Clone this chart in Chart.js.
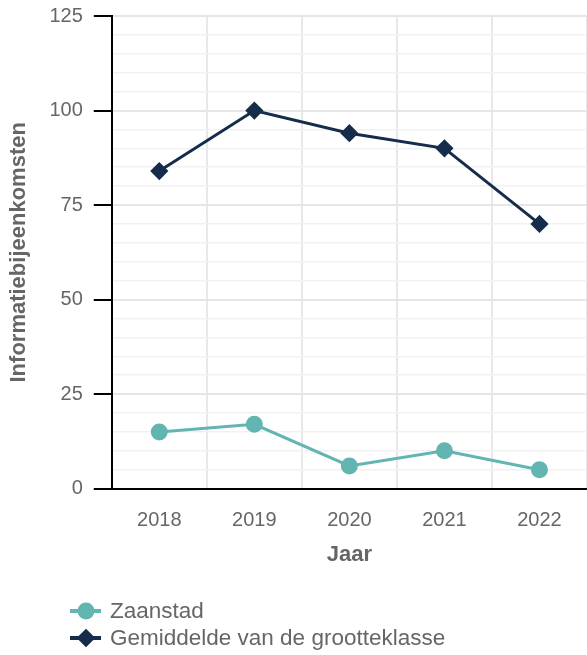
<!DOCTYPE html>
<html>
<head>
<meta charset="utf-8">
<script src="https://cdn.jsdelivr.net/npm/chart.js@4"></script>
<style>
    html, body { margin: 0; padding: 0; background: #fff; }
    #wrap { width: 587px; height: 655px; }
</style>
</head>
<body>
<div id="wrap"><canvas id="chart"></canvas></div>
<script>
const years = ['2018', '2019', '2020', '2021', '2022']
const zaanstad = [15, 17, 6, 10, 5]
const gemiddelde = [84, 100, 94, 90, 70]
const seriesNames = ['Zaanstad', 'Gemiddelde van de grootteklasse']
const axisTitles = {x: 'Jaar', y: 'Informatiebijeenkomsten'}

const FONT = "'Liberation Sans', Arial, sans-serif"
const GREY = '#666666'

// legend below the chart: short line with the marker on it, one row per series
const lineLegend = {
    id: 'lineLegend',
    afterDraw(chart) {
        const ctx = chart.ctx
        const rowY = [chart.height - 44, chart.height - 17]
        chart.data.datasets.forEach((ds, i) => {
            const y = rowY[i]
            ctx.save()
            ctx.strokeStyle = ds.borderColor
            ctx.lineWidth = 4
            ctx.beginPath()
            ctx.moveTo(70, y)
            ctx.lineTo(101, y)
            ctx.stroke()
            Chart.helpers.drawPoint(ctx, {
                pointStyle: ds.pointStyle,
                radius: 6.5,
                rotation: 0,
                borderWidth: 1
            }, 86, y)
            ctx.fillStyle = ds.borderColor
            ctx.fill()
            ctx.fillStyle = GREY
            ctx.font = '22.5px ' + FONT
            ctx.textBaseline = 'middle'
            ctx.textAlign = 'left'
            ctx.fillText(ds.label, 110, y + 1)
            ctx.restore()
        })
    }
}

new Chart(document.getElementById('chart'), {
    type: 'line',
    data: {
        labels: years,
        datasets: [{
            label: seriesNames[0],
            data: zaanstad,
            borderColor: '#62b5b1',
            backgroundColor: '#62b5b1',
            borderWidth: 3,
            pointStyle: 'circle',
            pointRadius: 7,
            pointHoverRadius: 7
        }, {
            label: seriesNames[1],
            data: gemiddelde,
            borderColor: '#152c4b',
            backgroundColor: '#152c4b',
            borderWidth: 3,
            pointStyle: 'rectRot',
            pointRadius: 7,
            pointHoverRadius: 7
        }]
    },
    options: {
        responsive: true,
        maintainAspectRatio: false,
        animation: false,
        layout: {autoPadding: false, padding: {top: 0, left: 6, right: 0, bottom: 87}},
        plugins: {
            legend: {display: false},
            tooltip: {enabled: false}
        },
        scales: {
            x: {
                offset: true,
                border: {color: '#000', width: 2},
                grid: {offset: true, color: '#e8e8e8', lineWidth: 2, drawTicks: true,
                    tickLength: 16, tickColor: 'rgba(0,0,0,0)'},
                ticks: {color: GREY, font: {family: FONT, size: 20}, padding: 4},
                title: {display: true, text: axisTitles.x, color: GREY,
                    font: {family: FONT, size: 22, weight: 'bold'}, padding: {top: 5, bottom: 0}}
            },
            y: {
                min: 0,
                max: 125,
                // the top label only needs half its height above the plot
                afterFit: s => { s.paddingTop = 16 },
                border: {color: '#000', width: 2},
                grid: {
                    color: c => c.tick && c.tick.value % 25 === 0 ? '#e6e6e6' : '#f1f1f1',
                    lineWidth: c => c.tick && c.tick.value % 25 === 0 ? 2 : 1.5,
                    tickColor: c => c.tick && c.tick.value % 25 === 0 ? '#000' : 'rgba(0,0,0,0)',
                    tickLength: 18,
                    tickWidth: 2
                },
                ticks: {
                    stepSize: 5,
                    maxTicksLimit: 40,
                    autoSkip: false,
                    color: GREY,
                    font: {family: FONT, size: 20},
                    padding: 11,
                    callback: v => v % 25 === 0 ? v : ''
                },
                title: {display: true, text: axisTitles.y, color: GREY,
                    font: {family: FONT, size: 22, weight: 'bold'}, padding: {top: 0, bottom: 6}}
            }
        }
    },
    plugins: [lineLegend]
})
</script>
</body>
</html>
